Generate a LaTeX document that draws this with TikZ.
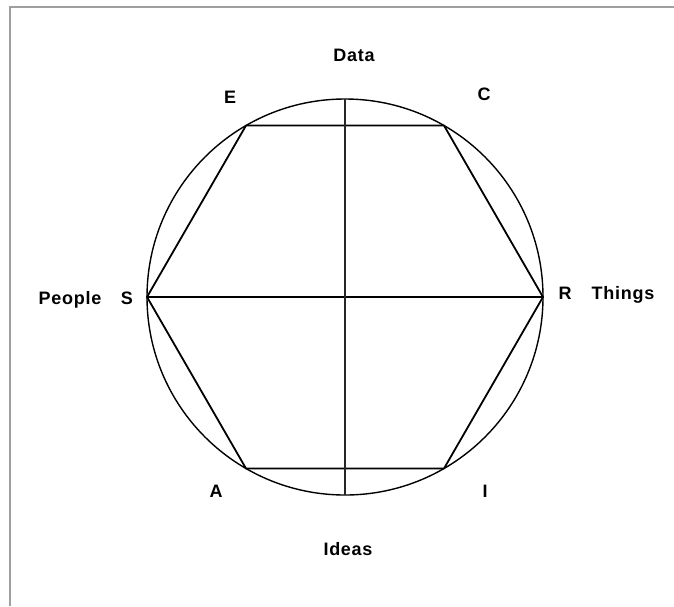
\documentclass[tikz,border=0pt]{standalone}
\usepackage{fontspec}
\setmainfont[LetterSpace=4]{Liberation Sans}
\usetikzlibrary{calc}

\begin{document}
\begin{tikzpicture}[x=1pt,y=-1pt,
  lab/.style={font=\fontsize{18}{20}\selectfont\bfseries,inner sep=0pt,text height=12.9pt,text depth=0pt}]
\useasboundingbox (0,0) rectangle (674,606);
\draw[gray!75,line width=1.3pt] (10,606)--(10,7)--(674,7);
\coordinate (O) at (345,297);
\draw[line width=1.4pt] (O) circle [radius=198];
\coordinate (R) at ($(O)+(0:198)$); \coordinate (I) at ($(O)+(60:198)$); \coordinate (A) at ($(O)+(120:198)$);
\coordinate (S) at ($(O)+(180:198)$); \coordinate (E) at ($(O)+(240:198)$); \coordinate (C) at ($(O)+(300:198)$);
\coordinate (T) at ($(O)+(270:198)$); \coordinate (B) at ($(O)+(90:198)$);
\draw[line width=1.8pt,line join=round] (E)--(C)--(R)--(I)--(A)--(S)--cycle;
\draw[line width=1.8pt] (S)--(R);
\draw[black!85,line width=1.2pt] (T)--(B);
\node[lab] (data) at (354,55) {Data};
\node[lab] (labE) at (230,97) {E}; \node[lab] (labC) at (484,94) {C};
\node[lab] (people) at (70,298) {People}; \node[lab] (labS) at (127,298) {S};
\node[lab] (labR) at (565,293) {R}; \node[lab] (things) at (623,293) {Things};
\node[lab] (labA) at (216,491) {A}; \node[lab] (labI) at (485,491) {I};
\node[lab] (ideas) at (348,549) {Ideas};
\end{tikzpicture}
\end{document}
